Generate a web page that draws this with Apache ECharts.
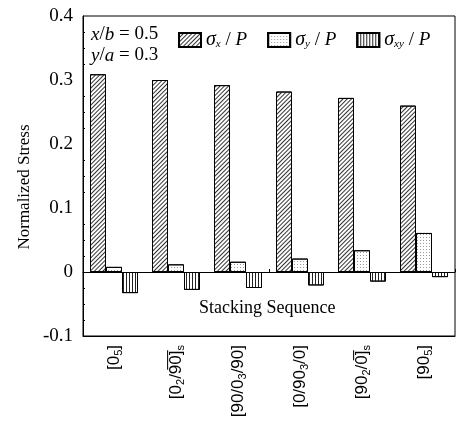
<!DOCTYPE html>
<html><head><meta charset="utf-8">
<script src="https://cdn.jsdelivr.net/npm/echarts@6/dist/echarts.min.js"></script>
<style>html,body{margin:0;padding:0;background:#fff}#c{width:456px;height:427px}</style>
</head><body><div id="c"></div>
<script>
var categories = ['{b|[0}{s|5}{b|]}', '{b|[0}{s|2}{b|/9\u03050\u0305]}{s|s}', '{b|[90/0}{s|3}{b|/90]}', '{b|[0/90}{s|3}{b|/0]}', '{b|[90}{s|2}{b|/0\u0305]}{s|s}', '{b|[90}{s|5}{b|]}'];
var sigmaX = [0.309, 0.300, 0.292, 0.282, 0.272, 0.260];
var sigmaY = [0.008, 0.012, 0.016, 0.021, 0.034, 0.061];
var sigmaXY = [-0.033, -0.028, -0.025, -0.021, -0.015, -0.008];
var yTicks = {min: -0.1, max: 0.4, interval: 0.1};
var seriesNames = ['sx', 'sy', 'sxy'];

var serif = 'Liberation Serif';
var chart = echarts.init(document.getElementById('c'));
var decals = [
  {symbol: 'rect', symbolSize: 1, color: '#333', dashArrayX: [1, 0], dashArrayY: [1, 2], rotation: -Math.PI / 4},
  {symbol: 'rect', symbolSize: 1, color: '#999', dashArrayX: [1, 2], dashArrayY: [1, 2]},
  {symbol: 'rect', symbolSize: 1, color: '#222', dashArrayX: [1, 2], dashArrayY: [1, 0]}
];
var vals = [sigmaX, sigmaY, sigmaXY];
var series = vals.map(function (v, i) {
  return {
    name: seriesNames[i], type: 'bar', data: v, barWidth: 16, barGap: '0%',
    xAxisIndex: 0, yAxisIndex: 0,
    itemStyle: {color: '#fff', borderColor: '#000', borderWidth: 1, decal: decals[i]}
  };
});
var subs = {sx: 'x', sy: 'y', sxy: 'xy'};
chart.setOption({
  animation: false,
  grid: {left: 83, right: 1, top: 16, bottom: 91, show: true, borderColor: '#000', borderWidth: 1},
  legend: {
    left: 178, top: 30, padding: 0, itemWidth: 22, itemHeight: 14, itemGap: 20, icon: 'rect',
    data: seriesNames,
    formatter: function (n) { return '{g|σ}{sub|' + subs[n] + '}{t| / }{i|P}'; },
    textStyle: {
      fontFamily: serif, color: '#000', fontSize: 19,
      rich: {
        g: {fontFamily: serif, fontSize: 20, fontStyle: 'italic', color: '#000'},
        sub: {fontFamily: serif, fontSize: 11, fontStyle: 'italic', color: '#000', verticalAlign: 'bottom', lineHeight: 20},
        t: {fontFamily: serif, fontSize: 19, color: '#000'},
        i: {fontFamily: serif, fontSize: 19, fontStyle: 'italic', color: '#000'}
      }
    }
  },
  xAxis: [{
    type: 'category', data: categories, position: 'bottom',
    axisLine: {onZero: false, lineStyle: {color: '#000'}},
    axisTick: {show: false},
    axisLabel: {
      rotate: 90, margin: 9, color: '#000', interval: 0,
      rich: {
        b: {fontFamily: 'Liberation Sans', fontSize: 17, color: '#000'},
        s: {fontFamily: 'Liberation Sans', fontSize: 11, color: '#000', verticalAlign: 'bottom', lineHeight: 20}
      }
    }
  }, {
    type: 'category', data: categories, position: 'bottom',
    axisLine: {onZero: true, lineStyle: {color: '#000'}},
    axisTick: {show: true, inside: true, length: 3, lineStyle: {color: '#000'}},
    axisLabel: {show: false}
  }],
  yAxis: {
    type: 'value', min: yTicks.min, max: yTicks.max, interval: yTicks.interval,
    axisLine: {show: true, lineStyle: {color: '#000'}},
    axisTick: {inside: true, length: 4, lineStyle: {color: '#000'}},
    minorTick: {show: true, splitNumber: 4, length: 2, lineStyle: {color: '#000'}},
    splitLine: {show: false},
    axisLabel: {
      fontFamily: serif, fontSize: 19, color: '#000', margin: 10,
      formatter: function (v) { return Math.abs(v) < 1e-9 ? '0' : (+v.toFixed(1)).toString(); }
    }
  },
  graphic: [
    {type: 'text', x: 25, y: 187, rotation: Math.PI / 2, style: {
      text: 'Normalized Stress', fill: '#000', font: '17px "Liberation Serif"', align: 'center', verticalAlign: 'middle'
    }},
    {type: 'text', left: 91, top: 25, style: {
      text: '{i|x}{t|/}{i|b}{t| = 0.5}', fill: '#000',
      rich: {i: {fontFamily: serif, fontSize: 19, fontStyle: 'italic', fill: '#000'}, t: {fontFamily: serif, fontSize: 19, fill: '#000'}}
    }},
    {type: 'text', left: 91, top: 46, style: {
      text: '{i|y}{t|/}{i|a}{t| = 0.3}', fill: '#000',
      rich: {i: {fontFamily: serif, fontSize: 19, fontStyle: 'italic', fill: '#000'}, t: {fontFamily: serif, fontSize: 19, fill: '#000'}}
    }},
    {type: 'text', left: 199, top: 299, style: {
      text: 'Stacking Sequence', fill: '#000', font: '18px "Liberation Serif"'
    }}
  ],
  series: series
});
</script></body></html>
